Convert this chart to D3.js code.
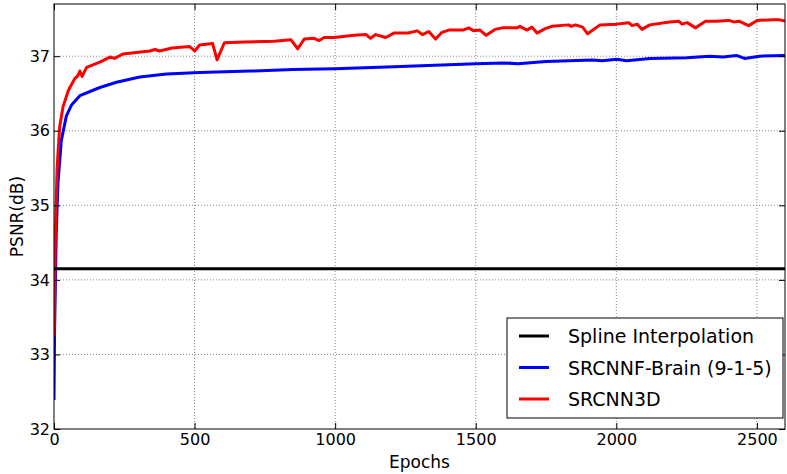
<!DOCTYPE html>
<html>
<head>
<meta charset="utf-8">
<script src="https://cdn.jsdelivr.net/npm/d3@7"></script>
<style>
	body { margin: 0; background: #fff; }
	svg { display: block; font-family: "DejaVu Sans", sans-serif; }
</style>
</head>
<body>
<div id="chart"></div>
<script>
// values
var xTicks = [0, 500, 1000, 1500, 2000, 2500];
var yTicks = [32, 33, 34, 35, 36, 37];
var splineValue = 34.15;

var redEpochs = [0, 5, 11, 20, 32, 51, 74, 85, 92, 100, 116, 163, 185, 199, 215, 245, 340, 360, 375, 420, 482, 500, 518,
	564, 580, 606, 677, 784, 843, 867, 890, 925, 943, 961, 996, 1067, 1110, 1126, 1144, 1180, 1209, 1227, 1260, 1292,
	1310, 1333, 1357, 1380, 1404, 1455, 1475, 1493, 1515, 1537, 1570, 1594, 1647, 1657, 1682, 1700, 1718, 1747, 1771,
	1830, 1840, 1855, 1880, 1898, 1942, 2001, 2044, 2056, 2074, 2091, 2119, 2190, 2222, 2234, 2252, 2282, 2317, 2352,
	2400, 2418, 2436, 2471, 2501, 2560, 2578, 2600];
var redPsnr = [33.25, 34.62, 35.5, 36.05, 36.32, 36.54, 36.70, 36.74, 36.80, 36.73, 36.85, 36.92, 36.96, 36.99, 36.97,
	37.03, 37.07, 37.09, 37.07, 37.11, 37.13, 37.07, 37.15, 37.17, 36.95, 37.18, 37.19, 37.20, 37.22, 37.10, 37.23,
	37.24, 37.21, 37.25, 37.25, 37.28, 37.29, 37.24, 37.29, 37.25, 37.31, 37.31, 37.31, 37.34, 37.29, 37.33, 37.23,
	37.32, 37.35, 37.35, 37.38, 37.34, 37.35, 37.28, 37.36, 37.38, 37.38, 37.40, 37.35, 37.39, 37.31, 37.37, 37.40,
	37.42, 37.40, 37.42, 37.39, 37.30, 37.42, 37.43, 37.45, 37.41, 37.43, 37.36, 37.42, 37.46, 37.47, 37.43, 37.45,
	37.38, 37.47, 37.47, 37.48, 37.46, 37.47, 37.41, 37.48, 37.49, 37.49, 37.47];

var blueEpochs = [0, 2, 8, 14, 26, 44, 63, 92, 163, 222, 305, 400, 518, 700, 850, 1000, 1209, 1500, 1600, 1650, 1750,
	1915, 1950, 2001, 2037, 2119, 2250, 2332, 2380, 2427, 2456, 2509, 2600];
var bluePsnr = [32.39, 33.3, 34.62, 35.29, 35.87, 36.20, 36.35, 36.47, 36.58, 36.65, 36.72, 36.76, 36.78, 36.80, 36.82,
	36.83, 36.86, 36.90, 36.91, 36.90, 36.93, 36.95, 36.94, 36.96, 36.94, 36.97, 36.98, 37.00, 36.99, 37.01, 36.97,
	37.00, 37.01];

var legendNames = ["Spline Interpolation", "SRCNNF-Brain (9-1-5)", "SRCNN3D"];
var legendColors = ["#000000", "#0000ff", "#ff0000"];

const width = 787, height = 474;
const margin = {top: 4, right: 2, bottom: 45, left: 54};
const iw = width - margin.left - margin.right;
const ih = height - margin.top - margin.bottom;

var svg = d3.select("#chart").append("svg")
	.attr("width", width)
	.attr("height", height);

var x = d3.scaleLinear().domain([0, 2600]).range([0, iw]);
var y = d3.scaleLinear().domain([32, 37.7]).range([ih, 0]);

var g = svg.append("g").attr("transform", "translate(" + margin.left + "," + margin.top + ")");

// dotted grid
g.append("g").selectAll("line.gx")
	.data(xTicks.slice(1))
	.enter().append("line")
	.attr("x1", d => x(d)).attr("x2", d => x(d))
	.attr("y1", 0).attr("y2", ih)
	.attr("stroke", "#888").attr("stroke-width", 1).attr("stroke-dasharray", "1,2");
g.append("g").selectAll("line.gy")
	.data(yTicks.slice(1))
	.enter().append("line")
	.attr("y1", d => y(d)).attr("y2", d => y(d))
	.attr("x1", 0).attr("x2", iw)
	.attr("stroke", "#888").attr("stroke-width", 1).attr("stroke-dasharray", "1,2");

// curves
g.append("clipPath").attr("id", "clip")
	.append("rect").attr("width", iw).attr("height", ih);

var line = d3.line().x(d => x(d[0])).y(d => y(d[1]));
var plot = g.append("g").attr("clip-path", "url(#clip)");

plot.append("path")
	.datum(blueEpochs.map((e, i) => [e, bluePsnr[i]]))
	.attr("d", line)
	.attr("fill", "none").attr("stroke", legendColors[1]).attr("stroke-width", 3)
	.attr("stroke-linejoin", "round");
plot.append("path")
	.datum(redEpochs.map((e, i) => [e, redPsnr[i]]))
	.attr("d", line)
	.attr("fill", "none").attr("stroke", legendColors[2]).attr("stroke-width", 3)
	.attr("stroke-linejoin", "round");
plot.append("path")
	.datum([[0, splineValue], [2600, splineValue]])
	.attr("d", line)
	.attr("fill", "none").attr("stroke", legendColors[0]).attr("stroke-width", 3);

// axes, ticks pointing inwards on all sides
var fontSize = "16px";
var fmt = d3.format("d");
var xAxis = g.append("g").attr("transform", "translate(0," + ih + ")")
	.call(d3.axisBottom(x).tickValues(xTicks).tickFormat(fmt).tickSizeInner(-6).tickSizeOuter(0).tickPadding(5));
var xTop = g.append("g")
	.call(d3.axisTop(x).tickValues(xTicks).tickSizeInner(-6).tickSizeOuter(0).tickFormat(""));
var yAxis = g.append("g")
	.call(d3.axisLeft(y).tickValues(yTicks).tickFormat(fmt).tickSizeInner(-6).tickSizeOuter(0).tickPadding(4));
var yRight = g.append("g").attr("transform", "translate(" + iw + ",0)")
	.call(d3.axisRight(y).tickValues(yTicks).tickSizeInner(-6).tickSizeOuter(0).tickFormat(""));

[xAxis, xTop, yAxis, yRight].forEach(a => {
	a.select(".domain").remove();
	a.selectAll(".tick line").attr("stroke", "#000").attr("stroke-width", 1);
	a.selectAll("text").attr("fill", "#000").style("font-size", fontSize)
		.style("font-family", "'DejaVu Sans', sans-serif");
});

g.append("rect")
	.attr("width", iw).attr("height", ih)
	.attr("fill", "none").attr("stroke", "#000").attr("stroke-width", 1);

svg.append("text")
	.attr("x", margin.left + iw / 2).attr("y", 468)
	.attr("text-anchor", "middle")
	.style("font-size", "17px")
	.text("Epochs");

svg.append("text")
	.attr("transform", "translate(23," + (margin.top + ih / 2) + ") rotate(-90)")
	.attr("text-anchor", "middle")
	.style("font-size", "17px")
	.text("PSNR(dB)");

// legend
var legend = svg.append("g").attr("transform", "translate(507,318)");
legend.append("rect")
	.attr("width", 276).attr("height", 100)
	.attr("fill", "#fff").attr("stroke", "#000").attr("stroke-width", 1);
var items = legend.selectAll("g.item")
	.data(legendNames)
	.enter().append("g")
	.attr("transform", (d, i) => "translate(0," + (18 + i * 31.5) + ")");
items.append("line")
	.attr("x1", 12).attr("x2", 42)
	.attr("stroke", (d, i) => legendColors[i]).attr("stroke-width", 3);
items.append("text")
	.attr("x", 61).attr("y", 7)
	.style("font-size", "19px")
	.text(d => d);
</script>
</body>
</html>
